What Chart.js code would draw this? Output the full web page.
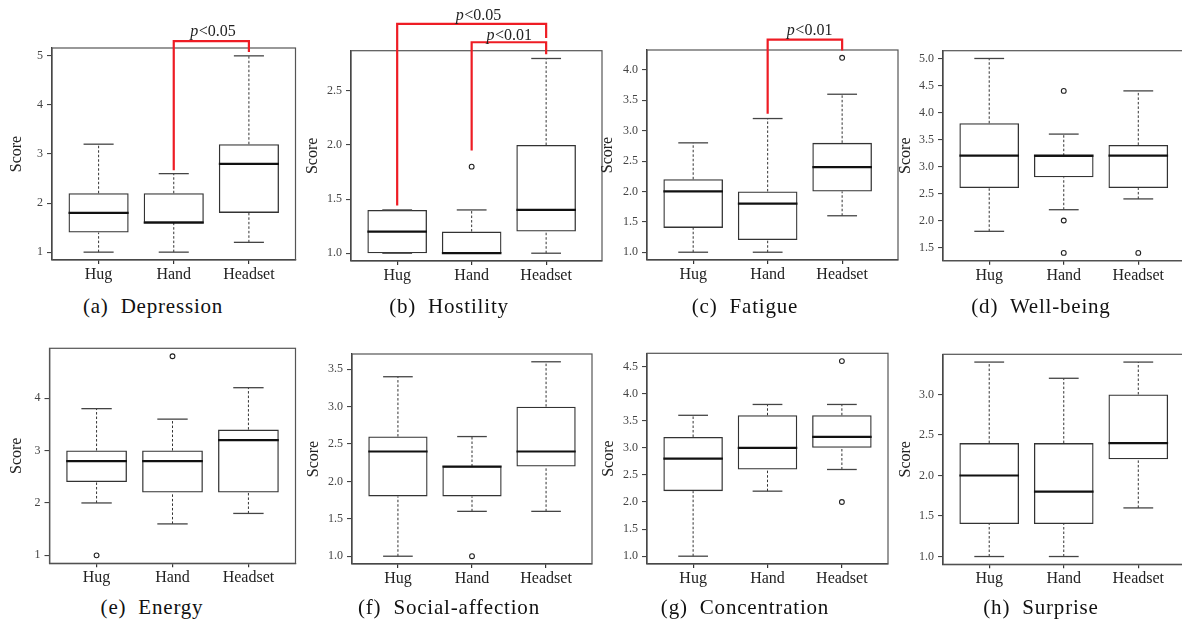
<!DOCTYPE html>
<html>
<head>
<meta charset="utf-8">
<script src="https://cdn.jsdelivr.net/npm/chart.js@4.4.1/dist/chart.umd.min.js"></script>
<style>
html, body { margin: 0; padding: 0; background: #fff; overflow: hidden; width: 1182px; height: 621px; }
#fig { position: relative; width: 1182px; height: 621px; }
#fig canvas { position: absolute; }
.cap { position: absolute; font-family: "Liberation Serif", serif; font-size: 21px; line-height: 24px;
       letter-spacing: 0.8px; word-spacing: 6px; color: #111; white-space: nowrap; transform: translateX(-50%); }
</style>
</head>
<body>
<div id="fig"></div>
<script>
const groups = ['Hug', 'Hand', 'Headset'];
const captions = ['Depression', 'Hostility', 'Fatigue', 'Well-being', 'Energy', 'Social-affection', 'Concentration', 'Surprise'];

// per group: [lower whisker, Q1, median, Q3, upper whisker]
const depression = [[1.0, 1.4, 1.8, 2.2, 3.2], [1.0, 1.6, 1.6, 2.2, 2.6], [1.2, 1.8, 2.8, 3.2, 5.0]];
const depressionOut = [[], [], []];
const depressionTicks = ['1', '2', '3', '4', '5'];

const hostility = [[1.0, 1.0, 1.2, 1.4, 1.4], [1.0, 1.0, 1.0, 1.2, 1.4], [1.0, 1.2, 1.4, 2.0, 2.8]];
const hostilityOut = [[], [1.8], []];
const hostilityTicks = ['1.0', '1.5', '2.0', '2.5'];

const fatigue = [[1.0, 1.4, 2.0, 2.2, 2.8], [1.0, 1.2, 1.8, 2.0, 3.2], [1.6, 2.0, 2.4, 2.8, 3.6]];
const fatigueOut = [[], [], [4.2]];
const fatigueTicks = ['1.0', '1.5', '2.0', '2.5', '3.0', '3.5', '4.0'];

const wellbeing = [[1.8, 2.6, 3.2, 3.8, 5.0], [2.2, 2.8, 3.2, 3.2, 3.6], [2.4, 2.6, 3.2, 3.4, 4.4]];
const wellbeingOut = [[], [4.4, 2.0, 1.4], [1.4]];
const wellbeingTicks = ['1.5', '2.0', '2.5', '3.0', '3.5', '4.0', '4.5', '5.0'];

const energy = [[2.0, 2.4, 2.8, 3.0, 3.8], [1.6, 2.2, 2.8, 3.0, 3.6], [1.8, 2.2, 3.2, 3.4, 4.2]];
const energyOut = [[1.0], [4.8], []];
const energyTicks = ['1', '2', '3', '4'];

const social = [[1.0, 1.8, 2.4, 2.6, 3.4], [1.6, 1.8, 2.2, 2.2, 2.6], [1.6, 2.2, 2.4, 3.0, 3.6]];
const socialOut = [[], [1.0], []];
const socialTicks = ['1.0', '1.5', '2.0', '2.5', '3.0', '3.5'];

const concentration = [[1.0, 2.2, 2.8, 3.2, 3.6], [2.2, 2.6, 3.0, 3.6, 3.8], [2.6, 3.0, 3.2, 3.6, 3.8]];
const concentrationOut = [[], [], [4.6, 2.0]];
const concentrationTicks = ['1.0', '1.5', '2.0', '2.5', '3.0', '3.5', '4.0', '4.5'];

const surprise = [[1.0, 1.4, 2.0, 2.4, 3.4], [1.0, 1.4, 1.8, 2.4, 3.2], [1.6, 2.2, 2.4, 3.0, 3.4]];
const surpriseOut = [[], [], []];
const surpriseTicks = ['1.0', '1.5', '2.0', '2.5', '3.0'];

// significance brackets: from group, to group, p label
const depressionSig = [{ from: 2, to: 3, label: 'p<0.05' }];
const hostilitySig = [{ from: 1, to: 3, label: 'p<0.05' }, { from: 2, to: 3, label: 'p<0.01' }];
const fatigueSig = [{ from: 2, to: 3, label: 'p<0.01' }];

// layout (pixels) and bracket geometry (data units)
const panels = [
  { stats: depression, out: depressionOut, ticks: depressionTicks, sig: depressionSig, geo: [{ y0: 2.67, top: 5.30, y1: 5.08, tx: 2.52, gap: 5.5 }],
    left: 0, top: 0, L: 52, R: 295.5, T: 48, B: 260, xMax: 3.62, capX: 153 },
  { stats: hostility, out: hostilityOut, ticks: hostilityTicks, sig: hostilitySig,
    geo: [{ y0: 1.44, top: 3.12, y1: 2.99, tx: 2.09, gap: 4 }, { y0: 1.95, top: 2.95, y1: 2.84, tx: 2.5, gap: 2.5 }],
    left: 296, top: 0, L: 351, R: 602, T: 50.7, B: 261, xMax: 3.75, capX: 449 },
  { stats: fatigue, out: fatigueOut, ticks: fatigueTicks, sig: fatigueSig, geo: [{ y0: 3.28, top: 4.50, y1: 4.32, tx: 2.56, gap: 4.3 }],
    left: 591, top: 0, L: 647, R: 898, T: 50, B: 260, xMax: 3.75, capX: 745 },
  { stats: wellbeing, out: wellbeingOut, ticks: wellbeingTicks, sig: [], geo: [],
    left: 889, top: 0, L: 943, R: 1184.5, T: 50.7, B: 260.7, xMax: 3.62, capX: 1041 },
  { stats: energy, out: energyOut, ticks: energyTicks, sig: [], geo: [],
    left: 0, top: 320, L: 49.5, R: 295.5, T: 348.3, B: 563.3, xMax: 3.62, capX: 152 },
  { stats: social, out: socialOut, ticks: socialTicks, sig: [], geo: [],
    left: 297, top: 320, L: 352, R: 592, T: 354, B: 564, xMax: 3.62, capX: 449 },
  { stats: concentration, out: concentrationOut, ticks: concentrationTicks, sig: [], geo: [],
    left: 592, top: 320, L: 647, R: 888, T: 353.3, B: 564, xMax: 3.62, capX: 745 },
  { stats: surprise, out: surpriseOut, ticks: surpriseTicks, sig: [], geo: [],
    left: 889, top: 320, L: 943, R: 1184.5, T: 354.3, B: 564.3, xMax: 3.62, capX: 1041 }
];

const SERIF = '"Liberation Serif", "Times New Roman", serif';
const RED = '#ee1c24';

function seg(ctx, x1, y1, x2, y2) {
  ctx.beginPath();
  ctx.moveTo(x1, y1);
  ctx.lineTo(x2, y2);
  ctx.stroke();
}

const boxExtras = {
  id: 'boxExtras',
  afterDatasetsDraw(chart) {
    const p = chart.options.plugins.boxExtras;
    const { ctx, scales: { x, y } } = chart;
    const bars = chart.getDatasetMeta(0).data;
    ctx.save();
    p.stats.forEach((s, i) => {
      const cx = x.getPixelForValue(i + 1);
      const w = bars[i].width;
      const py = s.map(v => y.getPixelForValue(v));
      // whiskers
      ctx.strokeStyle = '#333';
      ctx.lineWidth = 1;
      ctx.setLineDash([2.5, 2]);
      seg(ctx, cx, py[3], cx, py[4]);
      seg(ctx, cx, py[0], cx, py[1]);
      ctx.setLineDash([]);
      // caps
      ctx.strokeStyle = '#444';
      ctx.lineWidth = 1.3;
      seg(ctx, cx - w / 4, py[4], cx + w / 4, py[4]);
      seg(ctx, cx - w / 4, py[0], cx + w / 4, py[0]);
      // median
      ctx.strokeStyle = '#111';
      ctx.lineWidth = 2.2;
      seg(ctx, cx - w / 2, py[2], cx + w / 2, py[2]);
    });
    ctx.restore();
  },
  afterDraw(chart) {
    const p = chart.options.plugins.boxExtras;
    const { ctx, chartArea: a, scales: { x, y } } = chart;
    ctx.save();
    ctx.strokeStyle = '#555';
    ctx.lineWidth = 1.2;
    ctx.strokeRect(a.left, a.top, a.right - a.left, a.bottom - a.top);

    p.sig.forEach((b, k) => {
      const g = p.geo[k];
      const x0 = x.getPixelForValue(b.from);
      const x1 = x.getPixelForValue(b.to);
      const yt = y.getPixelForValue(g.top);
      ctx.strokeStyle = RED;
      ctx.lineWidth = 2.2;
      ctx.lineJoin = 'miter';
      ctx.beginPath();
      ctx.moveTo(x0, y.getPixelForValue(g.y0));
      ctx.lineTo(x0, yt);
      ctx.lineTo(x1, yt);
      ctx.lineTo(x1, y.getPixelForValue(g.y1));
      ctx.stroke();

      // label: italic p followed by the rest
      const head = b.label.slice(0, 1);
      const rest = b.label.slice(1);
      ctx.fillStyle = '#222';
      ctx.textBaseline = 'alphabetic';
      ctx.textAlign = 'left';
      ctx.font = 'italic 16px ' + SERIF;
      const wh = ctx.measureText(head).width;
      ctx.font = '16px ' + SERIF;
      const wr = ctx.measureText(rest).width;
      const tx = x.getPixelForValue(g.tx) - (wh + wr) / 2;
      const ty = yt - g.gap;
      ctx.font = 'italic 16px ' + SERIF;
      ctx.fillText(head, tx, ty);
      ctx.font = '16px ' + SERIF;
      ctx.fillText(rest, tx + wh + 0.5, ty);
    });
    ctx.restore();
  }
};

const fig = document.getElementById('fig');

panels.forEach((p, n) => {
  const cw = Math.ceil(p.R - p.left + 6);
  const ch = p.top === 0 ? 290 : 270;
  const xAxisH = 24;
  const canvas = document.createElement('canvas');
  canvas.width = cw;
  canvas.height = ch;
  canvas.style.left = p.left + 'px';
  canvas.style.top = p.top + 'px';
  fig.appendChild(canvas);

  const all = p.stats.flat().concat(p.out.flat());
  const lo = Math.min(...all);
  const hi = Math.max(...all);
  const pad = (hi - lo) * 0.04;

  const outliers = [];
  p.out.forEach((arr, i) => arr.forEach(v => outliers.push({ x: i + 1, y: v })));

  new Chart(canvas, {
    type: 'bar',
    data: {
      datasets: [
        {
          data: p.stats.map((s, i) => ({ x: i + 1, y: [s[1], s[3]] })),
          backgroundColor: 'rgba(255,255,255,0)',
          borderColor: '#333',
          borderWidth: 1.3,
          borderSkipped: false,
          categoryPercentage: 1,
          barPercentage: 0.8
        },
        {
          type: 'scatter',
          data: outliers,
          pointRadius: 2.4,
          pointBorderWidth: 1.1,
          borderColor: '#222',
          backgroundColor: '#fff'
        }
      ]
    },
    options: {
      responsive: false,
      animation: false,
      devicePixelRatio: 1,
      layout: {
        padding: {
          left: 0,
          top: p.T - p.top,
          right: cw - (p.R - p.left),
          bottom: ch - (p.B - p.top) - xAxisH
        }
      },
      plugins: {
        legend: { display: false },
        tooltip: { enabled: false },
        boxExtras: p
      },
      scales: {
        x: {
          type: 'linear',
          offset: false,
          min: 0.38,
          max: p.xMax,
          afterBuildTicks: s => { s.ticks = groups.map((g, i) => ({ value: i + 1 })); },
          afterFit: s => { s.height = xAxisH; },
          ticks: {
            autoSkip: false, maxRotation: 0, padding: 1, color: '#222',
            font: { family: SERIF, size: 16 },
            callback: (v, i) => groups[i]
          },
          grid: { offset: false, drawOnChartArea: false, tickLength: 4, color: '#333', lineWidth: 1.2 },
          border: { color: '#333', width: 1.3 }
        },
        y: {
          min: lo - pad,
          max: hi + pad,
          afterBuildTicks: s => { s.ticks = p.ticks.map(t => ({ value: parseFloat(t) })); },
          afterFit: s => { s.width = p.L - p.left; },
          ticks: {
            padding: 4, color: '#444',
            font: { family: SERIF, size: 12 },
            callback: (v, i) => p.ticks[i]
          },
          grid: { drawOnChartArea: false, tickLength: 5, color: '#444', lineWidth: 1.1 },
          border: { color: '#333', width: 1.3 },
          title: {
            display: true, text: 'Score', color: '#222',
            font: { family: SERIF, size: 16 },
            padding: { top: 7, bottom: 0 }
          }
        }
      }
    },
    plugins: [boxExtras]
  });

  const cap = document.createElement('div');
  cap.className = 'cap';
  cap.textContent = '(' + 'abcdefgh'[n] + ') ' + captions[n];
  cap.style.left = p.capX + 'px';
  cap.style.top = (p.top === 0 ? 293.5 : 594.5) + 'px';
  fig.appendChild(cap);
});
</script>
</body>
</html>
